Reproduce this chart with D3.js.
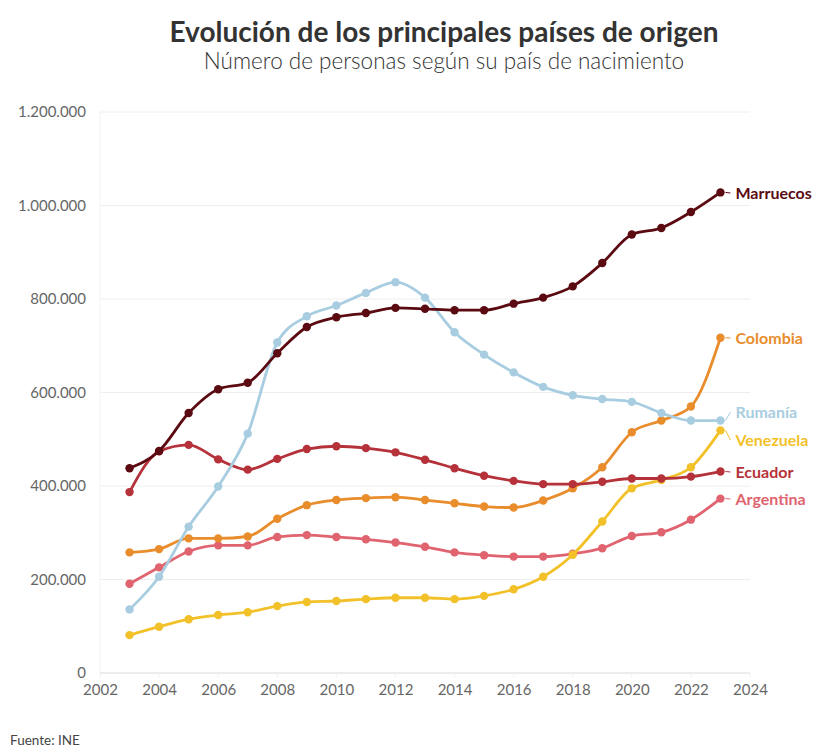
<!DOCTYPE html>
<html>
<head>
<meta charset="utf-8">
<script src="https://cdn.jsdelivr.net/npm/d3@7"></script>
<style>
  body { margin: 0; background: #fff; }
  text { font-family: Lato, "Open Sans", sans-serif; }
</style>
</head>
<body>
<div id="chart"></div>
<script>
// años 2003-2023
var years = d3.range(2003, 2024)

var marruecos = [438000, 475000, 556000, 607000, 621000, 684000, 740000, 761000, 770000, 781000, 779000,
    776000, 776000, 790000, 803000, 827000, 877000, 938000, 952000, 986000, 1028000]
var rumania = [136000, 206000, 313000, 399000, 512000, 707000, 763000, 786000, 813000, 836000, 803000,
    729000, 681000, 643000, 612000, 594000, 586000, 580000, 556000, 540000, 540000]
var colombia = [258000, 265000, 288000, 288000, 292000, 330000, 359000, 370000, 374000, 376000, 370000,
    363000, 356000, 354000, 369000, 395000, 440000, 515000, 540000, 570000, 717000]
var ecuador = [387000, 474000, 488000, 457000, 435000, 458000, 479000, 485000, 481000, 472000, 456000,
    438000, 422000, 411000, 404000, 404000, 409000, 416000, 416000, 420000, 431000]
var argentina = [191000, 226000, 260000, 273000, 273000, 291000, 295000, 291000, 286000, 279000, 270000,
    258000, 252000, 249000, 249000, 255000, 267000, 293000, 301000, 328000, 373000]
var venezuela = [81000, 99000, 115000, 124000, 130000, 143000, 152000, 154000, 158000, 161000, 161000,
    158000, 165000, 179000, 206000, 253000, 324000, 395000, 413000, 440000, 519000]

var yTicks = [0, 200000, 400000, 600000, 800000, 1000000, 1200000]
var xTicks = [2002, 2004, 2006, 2008, 2010, 2012, 2014, 2016, 2018, 2020, 2022, 2024]

var series = [
    {name: "Argentina", values: argentina, color: "#e0646f", labelY: 499},
    {name: "Venezuela", values: venezuela, color: "#f2c12a", labelY: 440},
    {name: "Colombia", values: colombia, color: "#e98d2c", labelY: 338},
    {name: "Ecuador", values: ecuador, color: "#b6323a", labelY: 472},
    {name: "Rumanía", values: rumania, color: "#a8cde0", labelY: 412},
    {name: "Marruecos", values: marruecos, color: "#5a0a10", labelY: 193}
]

var width = 824, height = 751
var margin = {top: 112, right: 74, bottom: 78, left: 100}

var x = d3.scaleLinear().domain([2002, 2024]).range([margin.left, width - margin.right])
var y = d3.scaleLinear().domain([0, 1200000]).range([height - margin.bottom, margin.top])

var es = d3.formatLocale({decimal: ",", thousands: ".", grouping: [3], currency: ["", "€"]})
var fmt = es.format(",d")

var svg = d3.select("#chart").append("svg")
    .attr("width", width)
    .attr("height", height)

svg.append("text")
    .attr("x", 444).attr("y", 42)
    .attr("text-anchor", "middle")
    .attr("font-size", 28)
    .attr("font-weight", 700)
    .attr("fill", "#333")
    .text("Evolución de los principales países de origen")

svg.append("text")
    .attr("x", 444).attr("y", 69)
    .attr("text-anchor", "middle")
    .attr("font-size", 22.5)
    .attr("font-weight", 300)
    .attr("fill", "#333")
    .text("Número de personas según su país de nacimiento")

// rejilla
svg.append("g")
    .attr("stroke", "#eeeeee")
    .attr("stroke-width", 1)
    .selectAll("line")
    .data(yTicks)
    .join("line")
    .attr("x1", x(2002)).attr("x2", x(2024))
    .attr("y1", d => y(d)).attr("y2", d => y(d))

svg.append("g")
    .attr("stroke", "#f3f3f3")
    .selectAll("line")
    .data(xTicks)
    .join("line")
    .attr("x1", d => x(d)).attr("x2", d => x(d))
    .attr("y1", y(0) + 5).attr("y2", d => d == 2002 ? y(1200000) : y(0))

svg.append("line")
    .attr("x1", x(2002)).attr("x2", x(2024))
    .attr("y1", y(0)).attr("y2", y(0))
    .attr("stroke", "#e3e3e3")

var yAxis = d3.axisLeft(y).tickValues(yTicks).tickFormat(fmt).tickSize(0).tickPadding(14)
svg.append("g")
    .attr("transform", `translate(${margin.left},0)`)
    .call(yAxis)
    .call(g => g.select(".domain").remove())
    .call(g => g.selectAll("text").attr("font-size", 15).attr("fill", "#666").attr("font-family", "Lato"))

var xAxis = d3.axisBottom(x).tickValues(xTicks).tickFormat(d3.format("d")).tickSize(0).tickPadding(11)
svg.append("g")
    .attr("transform", `translate(0,${y(0)})`)
    .call(xAxis)
    .call(g => g.select(".domain").remove())
    .call(g => g.selectAll("text").attr("font-size", 15).attr("fill", "#666").attr("font-family", "Lato"))

var line = d3.line()
    .x((d, i) => x(years[i]))
    .y(d => y(d))
    .curve(d3.curveMonotoneX)

var g = svg.append("g")
    .selectAll("g")
    .data(series)
    .join("g")

g.append("path")
    .attr("d", d => line(d.values))
    .attr("fill", "none")
    .attr("stroke", d => d.color)
    .attr("stroke-width", 2.8)

g.selectAll("circle")
    .data(d => d.values.map((v, i) => ({v: v, i: i, color: d.color})))
    .join("circle")
    .attr("cx", d => x(years[d.i]))
    .attr("cy", d => y(d.v))
    .attr("r", 4.2)
    .attr("fill", d => d.color)

// etiquetas
g.append("line")
    .attr("x1", x(2023) + 5).attr("x2", x(2023) + 10)
    .attr("y1", d => y(d.values[20]))
    .attr("y2", d => d.labelY)
    .attr("stroke", d => d.color)
    .attr("stroke-width", 1)

g.append("text")
    .attr("x", x(2023) + 15)
    .attr("y", d => d.labelY)
    .attr("dy", "0.35em")
    .attr("font-size", 16)
    .attr("font-weight", 700)
    .attr("fill", d => d.color)
    .text(d => d.name)

svg.append("text")
    .attr("x", 10).attr("y", 745)
    .attr("font-size", 13.5)
    .attr("fill", "#444")
    .text("Fuente: INE")
</script>
</body>
</html>
